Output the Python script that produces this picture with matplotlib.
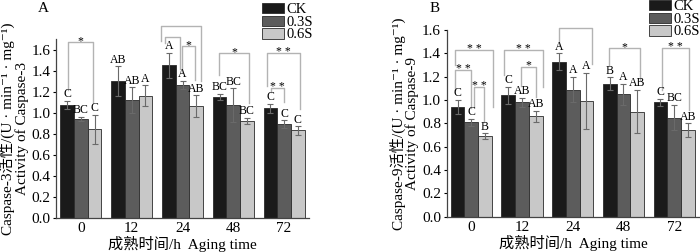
import matplotlib
matplotlib.use("Agg")
import matplotlib.pyplot as plt
import numpy as np

plt.rcParams['font.family'] = ['Liberation Serif', 'Noto Sans CJK SC', 'DejaVu Serif']
plt.rcParams['font.size'] = 11

groups = ['0', '12', '24', '48', '72']
series = ['CK', '0.3S', '0.6S']
colors = ['#1a1a1a', '#5c5c5c', '#c8c8c8']

A_ck = [1.07, 1.30, 1.45, 1.15, 1.04]
A_03 = [0.94, 1.12, 1.26, 1.07, 0.89]
A_06 = [0.84, 1.16, 1.06, 0.92, 0.83]
A_ck_err = [0.04, 0.14, 0.12, 0.03, 0.04]
A_03_err = [0.02, 0.12, 0.04, 0.16, 0.035]
A_06_err = [0.14, 0.10, 0.105, 0.03, 0.04]
A_ck_lab = ['C', 'AB', 'A', 'BC', 'C']
A_03_lab = ['BC', 'AB', 'A', 'BC', 'C']
A_06_lab = ['C', 'A', 'AB', 'BC', 'C']

B_ck = [0.94, 1.04, 1.33, 1.14, 0.98]
B_03 = [0.81, 0.98, 1.09, 1.05, 0.85]
B_06 = [0.69, 0.86, 0.99, 0.90, 0.74]
B_ck_err = [0.06, 0.075, 0.07, 0.055, 0.03]
B_03_err = [0.03, 0.04, 0.11, 0.09, 0.11]
B_06_err = [0.025, 0.05, 0.24, 0.185, 0.06]
B_ck_lab = ['C', 'C', 'A', 'B', 'C']
B_03_lab = ['C', 'AB', 'A', 'A', 'BC']
B_06_lab = ['B', 'AB', 'A', 'AB', 'AB']

# significance brackets: (group, left offset, right offset, y, left-leg bottom, right-leg bottom, text)
A_brackets = [
    (0, -0.26, 0.24, 1.667, 1.216, 1.105, '*'),
    (2, -0.42, 0.37, 1.82, 1.68, 1.30, '* *'),
    (2, -0.35, -0.045, 1.72, 1.66, 1.41, '*'),
    (2, -0.01, 0.24, 1.63, 1.39, 1.31, '*'),
    (3, -0.28, 0.31, 1.566, 1.36, 1.09, '*'),
    (4, -0.335, 0.31, 1.566, 1.25, 1.03, '* *'),
    (4, -0.26, 0.0, 1.232, 1.20, 1.105, '* *'),
]
B_brackets = [
    (0, -0.32, 0.43, 1.43, 1.30, 0.94, '* *'),
    (0, -0.32, -0.01, 1.257, 1.086, 0.93, '* *'),
    (0, 0.06, 0.26, 1.109, 0.943, 0.814, '* *'),
    (1, -0.36, 0.41, 1.43, 1.214, 1.114, '* *'),
    (1, -0.02, 0.27, 1.285, 1.12, 1.03, '*'),
    (2, -0.28, 0.38, 1.614, 1.47, 1.31, '*'),
    (3, -0.28, 0.32, 1.443, 1.30, 1.17, '*'),
    (4, -0.24, 0.30, 1.443, 1.086, 0.914, '* *'),
]

fig = plt.figure(figsize=(7.0, 2.52), dpi=100)
W, H = 700, 252

def px_axes(l, r, top, bottom):
    return fig.add_axes([l / W, (H - bottom) / H, (r - l) / W, (bottom - top) / H])

axA = px_axes(56, 309, 39, 217.7)
axB = px_axes(446.7, 700, 30, 216.7)

bw = 0.27
br_color = '#b3b3b3'

def draw(ax, vals, errs, labs, brackets, ylim, xlim, ylab1, ylab2, letter, legend_xy):
    x = np.arange(len(groups))
    handles = []
    for i in range(3):
        xs = x + (i - 1) * bw
        b = ax.bar(xs, vals[i], bw, color=colors[i], edgecolor='#2a2a2a', linewidth=0.6,
                   label=series[i], zorder=2)
        handles.append(b)
        ax.errorbar(xs, vals[i], yerr=errs[i], fmt='none', ecolor='#6a6a6a',
                     elinewidth=0.8, capsize=2, capthick=0.8, zorder=3)
        for xi, v, e, t in zip(xs, vals[i], errs[i], labs[i]):
            ax.annotate(t, (xi, v + e), xytext=(0, 0.5), textcoords='offset points',
                        ha='center', va='bottom', fontsize=8.5, zorder=4)
    for g, l, r, y, yl, yr, t in brackets:
        xl, xr = g + l, g + r
        ax.plot([xl, xl, xr, xr], [yl, y, y, yr], color=br_color, lw=1.0,
                clip_on=False, zorder=1)
        ax.annotate(t, ((xl + xr) / 2, y), xytext=(0, -1.5), textcoords='offset points',
                    ha='center', va='baseline', fontsize=8.5, clip_on=False)
    ax.set_xlim(*xlim)
    ax.set_ylim(*ylim)
    ax.set_xticks(x)
    ax.set_xticklabels(groups)
    ax.set_yticks(np.arange(0, 1.61, 0.2))
    ax.set_yticklabels([f'{v:.1f}' for v in np.arange(0, 1.61, 0.2)])
    ax.tick_params(axis='x', length=0, pad=3, labelsize=11)
    ax.tick_params(axis='y', length=2.5, width=0.8, pad=1.5, labelsize=11, direction='out')
    for s in ['top', 'right']:
        ax.spines[s].set_visible(False)
    for s in ['left', 'bottom']:
        ax.spines[s].set_color('#444444')
        ax.spines[s].set_linewidth(0.9)
    ax.set_xlabel('成熟时间/h  Aging time', fontsize=11, labelpad=1)
    ax.set_ylabel('Caspase-' + ylab1 + '活性/(U · min⁻¹ · mg⁻¹)\n' + ylab2,
                  fontsize=11, labelpad=2, linespacing=0.95)
    ax.text(letter[1] / W, 1 - letter[2] / H, letter[0], transform=fig.transFigure,
            ha='center', va='center', fontsize=11)
    ax.legend(handles=handles, loc='upper left',
              bbox_to_anchor=(legend_xy[0] / W, 1 - legend_xy[1] / H),
              bbox_transform=fig.transFigure, frameon=False, fontsize=10.5,
              borderpad=0, handletextpad=0.15, labelspacing=-0.05,
              handlelength=1.5, handleheight=0.72, borderaxespad=0)

draw(axA, [A_ck, A_03, A_06], [A_ck_err, A_03_err, A_06_err],
     [A_ck_lab, A_03_lab, A_06_lab], A_brackets, (0, 1.7), (-0.49, 4.49),
     '3', 'Activity of Caspase-3', ('A', 43, 8), (262, 3))
draw(axB, [B_ck, B_03, B_06], [B_ck_err, B_03_err, B_06_err],
     [B_ck_lab, B_03_lab, B_06_lab], B_brackets, (0, 1.6), (-0.485, 4.51),
     '9', 'Activity of Caspase-9', ('B', 435, 8), (649, 0))

fig.savefig('out.png', dpi=100)
